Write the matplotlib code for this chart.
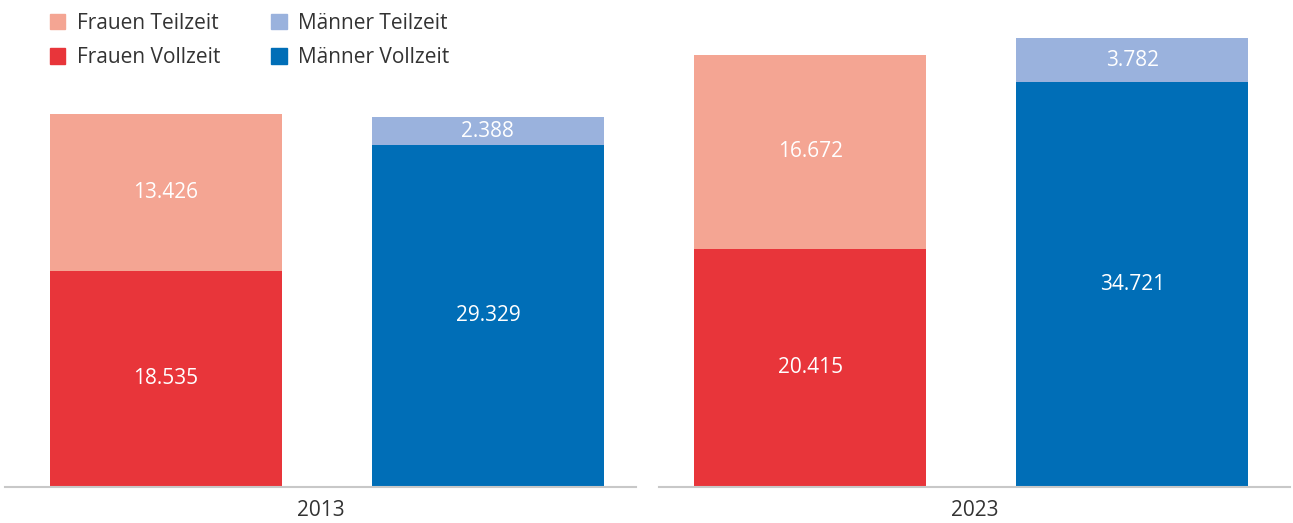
import matplotlib
matplotlib.use("Agg")
import matplotlib.pyplot as plt
from matplotlib.patches import Patch

plt.rcParams['font.family'] = ['Open Sans', 'DejaVu Sans']

years = ["2013", "2023"]
groups = ["Frauen", "Männer"]
frauen_vollzeit = [18.535, 20.415]
frauen_teilzeit = [13.426, 16.672]
maenner_vollzeit = [29.329, 34.721]
maenner_teilzeit = [2.388, 3.782]

series_labels = ["Frauen Teilzeit", "Frauen Vollzeit", "Männer Teilzeit", "Männer Vollzeit"]
colors = {
    "Frauen Teilzeit": "#F4A593",
    "Frauen Vollzeit": "#E8353A",
    "Männer Teilzeit": "#9AB2DD",
    "Männer Vollzeit": "#006EB7",
}

def fmt(v):
    return f"{v:.3f}"

W, H = 1293, 523
FS = 15
fig = plt.figure(figsize=(W / 100, H / 100), dpi=100)

ymax = max(mv + mt for mv, mt in zip(maenner_vollzeit, maenner_teilzeit))
panels = [(5, 636), (659, 1290)]
xlims = [(-0.5, 1.46), (-0.47, 1.49)]
bottom_px, top_px = 487, 38

for i, (x0, x1) in enumerate(panels):
    ax = fig.add_axes([x0 / W, 1 - bottom_px / H, (x1 - x0) / W, (bottom_px - top_px) / H])
    pos = [0, 1]
    full = [frauen_vollzeit[i], maenner_vollzeit[i]]
    part = [frauen_teilzeit[i], maenner_teilzeit[i]]
    cfull = [colors["Frauen Vollzeit"], colors["Männer Vollzeit"]]
    cpart = [colors["Frauen Teilzeit"], colors["Männer Teilzeit"]]
    ax.bar(pos, full, width=0.72, color=cfull)
    ax.bar(pos, part, bottom=full, width=0.72, color=cpart)
    for p, f, t in zip(pos, full, part):
        ax.text(p, f / 2, fmt(f), ha="center", va="center", color="white", fontsize=FS)
        ax.text(p, f + t / 2, fmt(t), ha="center", va="center", color="white", fontsize=FS)
    ax.set_xlim(*xlims[i])
    ax.set_ylim(0, ymax)
    for s in ["top", "right", "left"]:
        ax.spines[s].set_visible(False)
    ax.spines["bottom"].set_color("#C8C8C8")
    ax.spines["bottom"].set_linewidth(1.5)
    ax.set_yticks([])
    ax.set_xticks([])
    ax.text(0.5, -0.028, years[i], transform=ax.transAxes, ha="center", va="top",
            fontsize=FS, color="#333333")

handles = [Patch(color=colors[s]) for s in series_labels]
fig.legend(handles, series_labels, ncol=2, loc="upper left",
           bbox_to_anchor=(31 / W, 1 + 6 / H), frameon=False, fontsize=FS,
           handlelength=0.75, handleheight=0.75, handletextpad=0.55,
           columnspacing=2.45, labelspacing=0.65, labelcolor="#333333")

fig.savefig("out.png", dpi=100)
